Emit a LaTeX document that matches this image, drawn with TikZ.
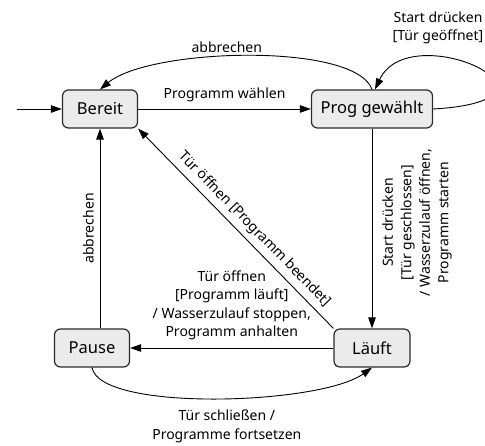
\documentclass[tikz,border=0pt]{standalone}
\usepackage{fontspec}
\setmainfont{Noto Sans}
\usetikzlibrary{arrows.meta}
\definecolor{zfill}{HTML}{EBEBEB}
\definecolor{zline}{HTML}{2B2B2B}
\begin{document}
\begin{tikzpicture}[x=1pt,y=-1pt,
	zustand/.style={draw=zline, fill=zfill, line width=1.2pt, rounded corners=6pt,
		minimum width=75pt, minimum height=38pt, font=\fontsize{16.5}{19}\selectfont},
	pfeil/.style={-{Triangle[length=11pt,width=7.5pt]}, line width=0.9pt},
	lbl/.style={font=\fontsize{14}{18.5}\selectfont, align=center}]
	\useasboundingbox (0,0) rectangle (485,446);
	% Zustaende
	\node[zustand] (bereit) at (100,109) {Bereit};
	\node[zustand, minimum width=121pt] (prog) at (372,109) {Prog gewählt};
	\node[zustand] (pause) at (92,348) {Pause};
	\node[zustand, minimum width=76pt] (laeuft) at (372,348) {Läuft};
	\coordinate (init) at (17,109);
	% Uebergaenge
	\draw[pfeil] (init) -- (bereit);
	\draw[pfeil] (bereit) -- node[lbl, above=3pt] (lwahl) {Programm wählen} (prog);
	\draw[pfeil] (prog.north) .. controls (355,42) and (150,48) .. (bereit.north)
		node[lbl, above, pos=0.56] (labbr1) {abbrechen};
	\draw[pfeil] (prog.east) .. controls (590,100) and (410,15) .. ([xshift=3pt]prog.north);
	\node[lbl] (lauf) at (438,28) {Start drücken\\{[}Tür geöffnet{]}};
	\draw[pfeil] (prog) -- node[lbl, rotate=90, anchor=north, outer ysep=7pt, pos=0.47] (lstart)
		{Start drücken\\{[}Tür geschlossen{]}\\/ Wasserzulauf öffnen,\\Programm starten} (laeuft);
	\draw[pfeil] (pause.north -| bereit) -- node[lbl, rotate=90, anchor=south, outer ysep=3pt] (labbr2) {abbrechen} (bereit);
	\draw[pfeil] (laeuft.north west) -- node[lbl, sloped, above=2pt, pos=0.45] (lende)
		{Tür öffnen {[}Programm beendet{]}} (bereit.south east);
	\draw[pfeil] (laeuft) -- node[lbl, above=4pt] (lhalt)
		{Tür öffnen\\{[}Programm läuft{]}\\/ Wasserzulauf stoppen,\\Programm anhalten} (pause);
	\draw[pfeil] (pause.south) .. controls (100,412) and (320,405) .. (laeuft.south)
		node[lbl, below=8pt, pos=0.53] (lweiter) {Tür schließen /\\Programme fortsetzen};
\end{tikzpicture}
\end{document}
